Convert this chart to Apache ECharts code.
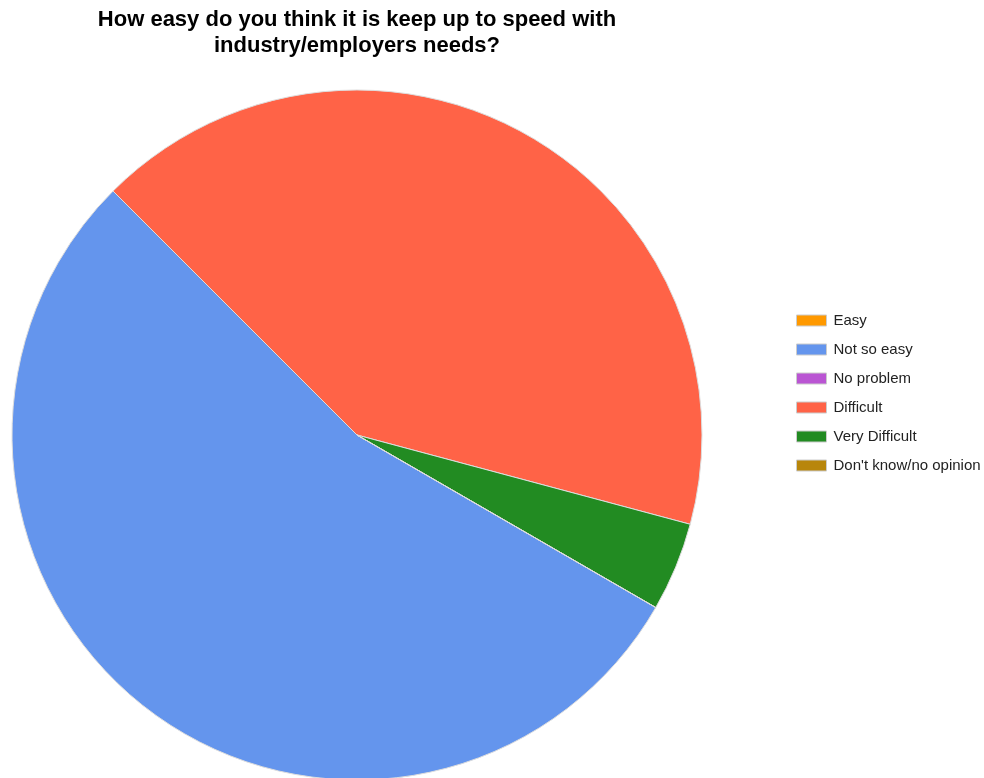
<!DOCTYPE html>
<html>
<head>
<meta charset="utf-8">
<style>
  html, body { margin: 0; padding: 0; background: #fff; }
  #chart { width: 984px; height: 778px; }
</style>
<script src="https://cdn.jsdelivr.net/npm/echarts@6/dist/echarts.min.js"></script>
</head>
<body>
<div id="chart"></div>
<script>
// Survey answers and their response counts
const categories = ['Easy', 'Not so easy', 'No problem', 'Difficult', 'Very Difficult', "Don't know/no opinion"];
const counts = [0, 13, 0, 10, 1, 0];
const colors = ['#ff9900', '#6495ed', '#ba55d3', '#ff6347', '#228b22', '#b8860b'];

const chart = echarts.init(document.getElementById('chart'));

chart.setOption({
  animation: false,
  color: colors,
  title: {
    text: 'How easy do you think it is keep up to speed with\nindustry/employers needs?',
    left: 357,
    textAlign: 'center',
    top: 7,
    padding: 0,
    textStyle: {
      fontFamily: 'Liberation Sans, Arial, sans-serif',
      fontSize: 22,
      fontWeight: 'bold',
      color: '#000',
      lineHeight: 26
    }
  },
  legend: {
    orient: 'vertical',
    left: 791,
    top: 307,
    icon: 'rect',
    itemWidth: 30,
    itemHeight: 11,
    itemGap: 12,
    selectedMode: false,
    data: categories,
    itemStyle: { borderColor: '#cccccc', borderWidth: 1 },
    textStyle: {
      fontFamily: 'Liberation Sans, Arial, sans-serif',
      fontSize: 15,
      lineHeight: 17,
      color: '#222222',
      padding: [0, 0, 0, 2]
    }
  },
  series: [{
    type: 'pie',
    center: [357, 435],
    radius: 345,
    startAngle: 330,
    clockwise: true,
    avoidLabelOverlap: false,
    label: { show: false },
    labelLine: { show: false },
    emphasis: { disabled: true },
    itemStyle: { borderColor: '#dddddd', borderWidth: 1 },
    data: categories.map((name, i) => ({ name: name, value: counts[i] }))
  }]
});
</script>
</body>
</html>
